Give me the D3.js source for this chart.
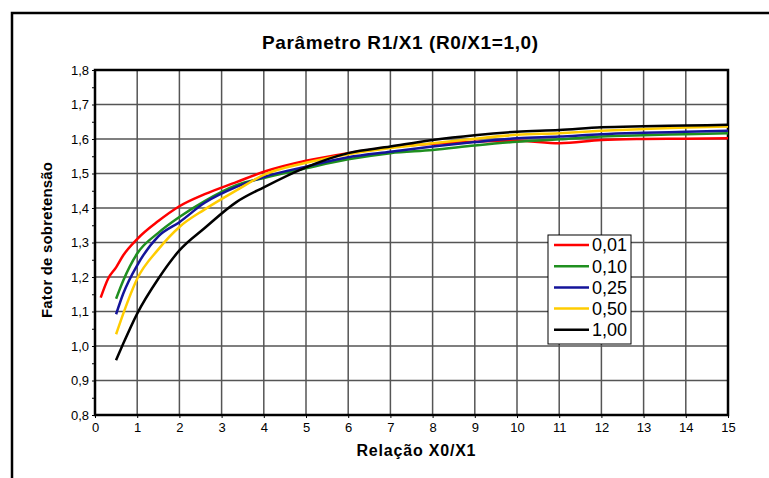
<!DOCTYPE html>
<html>
<head>
<meta charset="utf-8">
<script src="https://cdn.jsdelivr.net/npm/d3@7"></script>
<style>
  body { margin: 0; background: #fff; }
  text { font-family: Arial, "Liberation Sans", sans-serif; }
</style>
</head>
<body>
<svg id="chart" width="769" height="478"></svg>
<script>
// values
var xs     = [0.5, 0.67, 1, 1.5, 2, 2.6, 3.35, 4, 5, 6, 7, 8, 9, 10, 11, 12, 13, 14, 15];
var red    = [1.228, 1.263, 1.310, 1.362, 1.405, 1.440, 1.475, 1.505, 1.537, 1.559, 1.576, 1.586, 1.592, 1.595, 1.588, 1.597, 1.600, 1.601, 1.602];
var green  = [1.137, 1.190, 1.268, 1.328, 1.374, 1.420, 1.466, 1.487, 1.515, 1.541, 1.559, 1.568, 1.581, 1.592, 1.599, 1.607, 1.611, 1.614, 1.617];
var blue   = [1.092, 1.152, 1.234, 1.318, 1.359, 1.415, 1.461, 1.490, 1.520, 1.547, 1.563, 1.578, 1.591, 1.602, 1.607, 1.614, 1.618, 1.621, 1.624];
var yellow = [1.034, 1.094, 1.195, 1.280, 1.345, 1.396, 1.451, 1.496, 1.531, 1.556, 1.574, 1.588, 1.601, 1.612, 1.617, 1.624, 1.629, 1.633, 1.636];
var black  = [0.959, 1.007, 1.094, 1.195, 1.277, 1.342, 1.417, 1.460, 1.518, 1.559, 1.578, 1.597, 1.611, 1.621, 1.626, 1.634, 1.637, 1.639, 1.641];
var redStart = [[0.135, 1.140], [0.31, 1.195]];

var seriesNames  = ["0,01", "0,10", "0,25", "0,50", "1,00"];
var seriesColors = ["#ff0000", "#1f8f1f", "#14149a", "#ffcc00", "#000000"];
var xTicks = d3.range(0, 16);
var yTicks = [0.8, 0.9, 1.0, 1.1, 1.2, 1.3, 1.4, 1.5, 1.6, 1.7, 1.8];

var svg = d3.select("#chart");
var m = {left: 95, right: 728, top: 70, bottom: 415};

var x = d3.scaleLinear().domain([0, 15]).range([m.left, m.right]);
var y = d3.scaleLinear().domain([0.8, 1.8]).range([m.bottom, m.top]);

// outer frame
svg.append("rect").attr("x", 12).attr("y", 13).attr("width", 800).attr("height", 520)
  .attr("fill", "none").attr("stroke", "#000").attr("stroke-width", 2.5);

svg.append("text").attr("x", 400).attr("y", 49).attr("text-anchor", "middle")
  .attr("font-size", 19).attr("font-weight", "bold").attr("textLength", 276)
  .text("Parâmetro R1/X1 (R0/X1=1,0)");

// grid
svg.append("g").selectAll("line").data(xTicks.slice(1, -1)).join("line")
  .attr("x1", d => x(d)).attr("x2", d => x(d)).attr("y1", m.top).attr("y2", m.bottom)
  .attr("stroke", "#555").attr("stroke-width", 1.5);
svg.append("g").selectAll("line").data(yTicks.slice(1, -1)).join("line")
  .attr("y1", d => y(d)).attr("y2", d => y(d)).attr("x1", m.left).attr("x2", m.right)
  .attr("stroke", "#555").attr("stroke-width", 1.5);

// axes
var xAxis = svg.append("g").attr("transform", "translate(0," + m.bottom + ")")
  .call(d3.axisBottom(x).tickValues(xTicks).tickSize(3).tickFormat(d3.format("d")));
var yAxis = svg.append("g").attr("transform", "translate(" + m.left + ",0)")
  .call(d3.axisLeft(y).tickValues(d3.range(0.8, 1.801, 0.05)).tickSize(3)
    .tickFormat(d => Math.round(d * 100) % 10 === 0 ? d3.format(".1f")(d).replace(".", ",") : ""));
[xAxis, yAxis].forEach(function (a) {
  a.select(".domain").remove();
  a.selectAll("text").attr("font-size", 13).attr("fill", "#000");
});
xAxis.selectAll("text").attr("dy", "0.85em");

svg.append("rect").attr("x", m.left).attr("y", m.top)
  .attr("width", m.right - m.left).attr("height", m.bottom - m.top)
  .attr("fill", "none").attr("stroke", "#000").attr("stroke-width", 2.5);

svg.append("text").attr("x", 416).attr("y", 456).attr("text-anchor", "middle")
  .attr("font-size", 16).attr("font-weight", "bold").attr("textLength", 119)
  .text("Relação X0/X1");
svg.append("text").attr("transform", "translate(52,240) rotate(-90)").attr("text-anchor", "middle")
  .attr("font-size", 15).attr("font-weight", "bold").attr("textLength", 156)
  .text("Fator de sobretensão");

// curves
var line = d3.line().x(d => x(d[0])).y(d => y(d[1])).curve(d3.curveMonotoneX);
var series = [red, green, blue, yellow, black].map(function (vals, i) {
  var pts = vals.map((v, j) => [xs[j], v]);
  if (i === 0) pts = redStart.concat(pts);
  return pts;
});
svg.append("g").selectAll("path").data(series).join("path")
  .attr("d", line).attr("fill", "none")
  .attr("stroke", (d, i) => seriesColors[i]).attr("stroke-width", 2.5);

// legend
var lg = svg.append("g");
lg.append("rect").attr("x", 548).attr("y", 235).attr("width", 83).attr("height", 109)
  .attr("fill", "#fff").attr("stroke", "#000").attr("stroke-width", 1);
var rows = lg.selectAll("g").data(seriesNames).join("g")
  .attr("transform", (d, i) => "translate(0," + (245 + i * 21.2) + ")");
rows.append("line").attr("x1", 554).attr("x2", 589)
  .attr("stroke", (d, i) => seriesColors[i]).attr("stroke-width", 2.5);
rows.append("text").attr("x", 592).attr("dy", "0.36em").attr("font-size", 18)
  .text(d => d);
</script>
</body>
</html>
